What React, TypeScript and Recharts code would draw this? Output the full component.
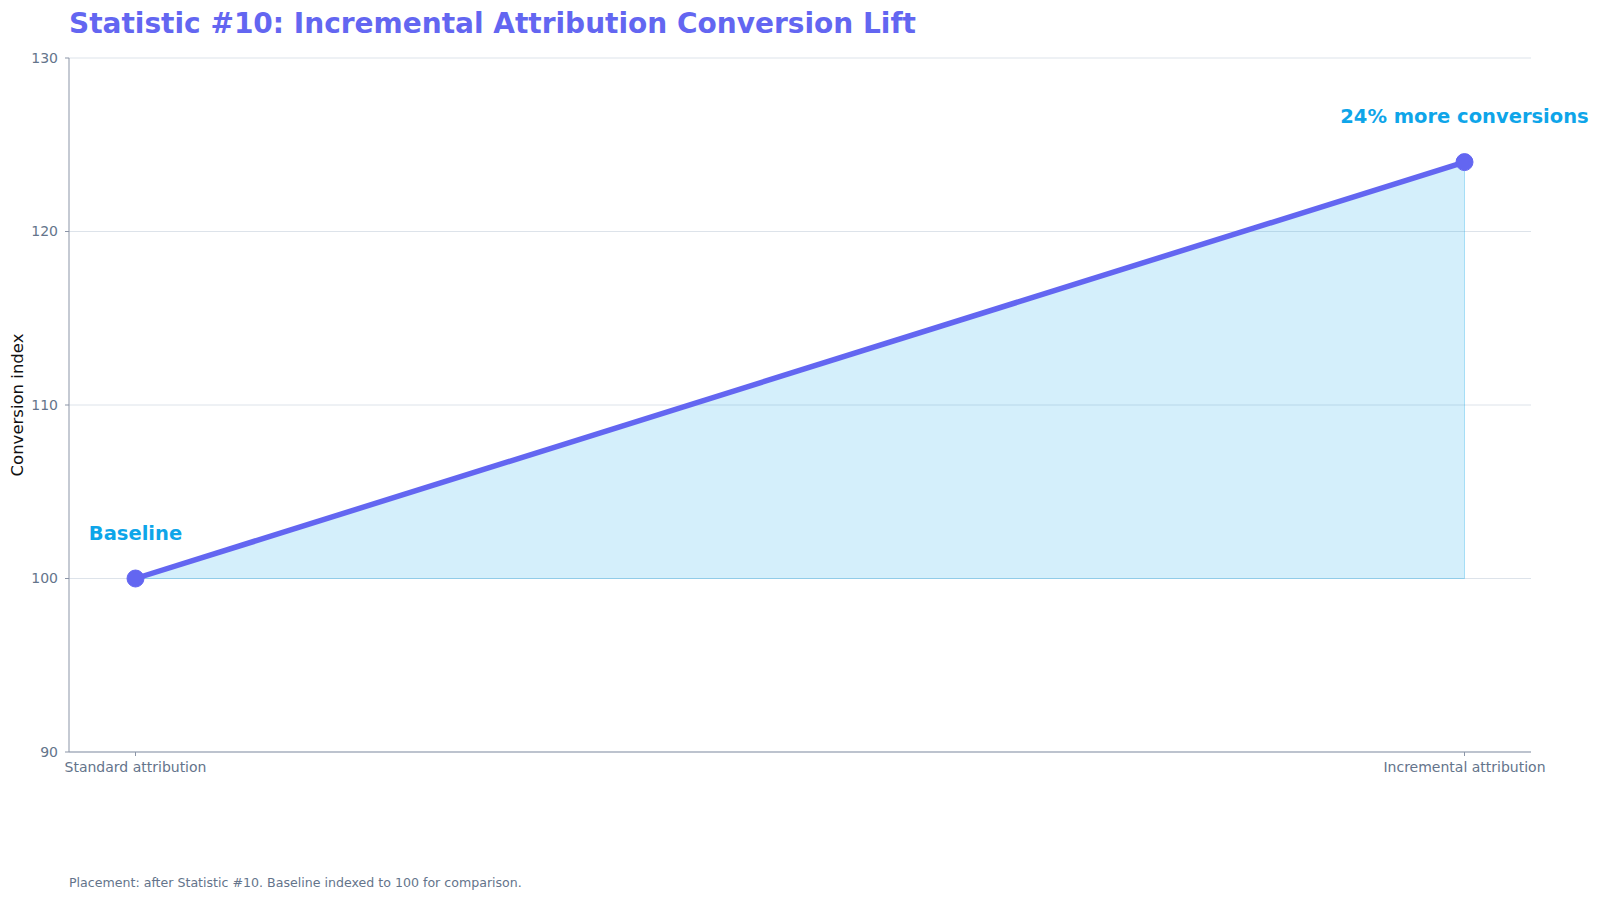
import React from "react"
import {
  ComposedChart,
  Area,
  Line,
  XAxis,
  YAxis,
  CartesianGrid,
  LabelList,
  ReferenceLine,
} from "recharts"

const categories = ["Standard attribution", "Incremental attribution"]
const conversionIndex = [100, 124]
const notes = ["Baseline", "24% more conversions"]
const baseline = 100
const yTicks = [90, 100, 110, 120, 130]

const data = categories.map((cat, i) => ({
  cat,
  value: conversionIndex[i],
  range: [baseline, conversionIndex[i]],
  note: notes[i],
}))

const lastCat = categories[categories.length - 1]
const lastValue = conversionIndex[conversionIndex.length - 1]

const font = "'DejaVu Sans', sans-serif"
const slate = "#64748b"
const axisColor = "#8b95a7"

export default function App() {
  return (
    <div style={{ position: "absolute", left: 0, top: 0, width: 1600, height: 900, background: "#fff", fontFamily: font }}>
      <div
        style={{
          position: "absolute",
          left: 69,
          top: 7,
          fontSize: 28,
          fontWeight: "bold",
          color: "#6366F1",
          whiteSpace: "nowrap",
        }}
      >
        Statistic #10: Incremental Attribution Conversion Lift
      </div>
      <div
        style={{
          position: "absolute",
          left: 17,
          top: 405,
          fontSize: 16.5,
          color: "#111",
          whiteSpace: "nowrap",
          transform: "translate(-50%, -50%) rotate(-90deg)",
        }}
      >
        Conversion index
      </div>
      <ComposedChart
        width={1600}
        height={900}
        data={data}
        margin={{ top: 58, right: 69, bottom: 0, left: 0 }}
        style={{ fontFamily: font }}
      >
        <CartesianGrid horizontal vertical={false} stroke="#dde3ea" />
        <XAxis
          dataKey="cat"
          height={148}
          padding={{ left: 66.5, right: 66.5 }}
          tickSize={4}
          tickMargin={6}
          stroke={axisColor}
          tick={{ fill: slate, fontSize: 14 }}
          interval={0}
        />
        <YAxis
          width={69}
          domain={[90, 130]}
          ticks={yTicks}
          tickSize={4}
          tickMargin={7}
          stroke={axisColor}
          tick={{ fill: slate, fontSize: 14 }}
        />
        <Area
          dataKey="range"
          type="linear"
          stroke="#0ea5e9"
          strokeOpacity={0.3}
          strokeWidth={1}
          fill="#0ea5e9"
          fillOpacity={0.18}
          isAnimationActive={false}
        />
        <ReferenceLine
          segment={[
            { x: lastCat, y: baseline },
            { x: lastCat, y: lastValue },
          ]}
          stroke="#0ea5e9"
          strokeOpacity={0.3}
          strokeWidth={1}
        />
        <Line
          dataKey="value"
          type="linear"
          stroke="#6366F1"
          strokeWidth={5.5}
          dot={{ r: 8.5, fill: "#6366F1", stroke: "#6366F1", strokeWidth: 1 }}
          activeDot={false}
          isAnimationActive={false}
        >
          <LabelList
            dataKey="note"
            position="top"
            offset={39}
            fill="#0ea5e9"
            fontSize={19.5}
            fontWeight="bold"
          />
        </Line>
      </ComposedChart>
      <div
        style={{
          position: "absolute",
          left: 69,
          top: 875,
          fontSize: 12.6,
          color: slate,
          whiteSpace: "nowrap",
        }}
      >
        Placement: after Statistic #10. Baseline indexed to 100 for comparison.
      </div>
    </div>
  )
}
